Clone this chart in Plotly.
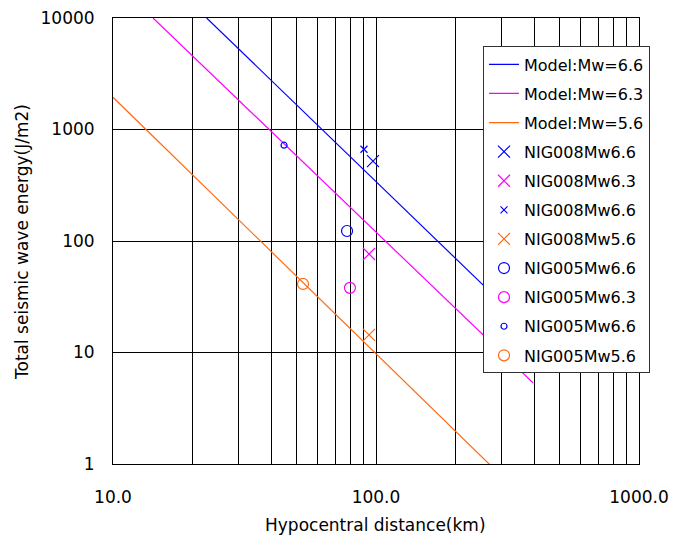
import plotly.graph_objects as go

# ---- data ----
model_names = ["Model:Mw=6.6", "Model:Mw=6.3", "Model:Mw=5.6"]
model_colors = ["#0000FF", "#FF00FF", "#FF6A10"]
model_dist = [[22.7, 400.0], [14.2, 395.0], [10.0, 285.0]]
model_energy = [[10000.0, 14.5], [10000.0, 5.36], [1945.0, 0.877]]

obs_names = ["NIG008Mw6.6", "NIG008Mw6.3", "NIG008Mw6.6", "NIG008Mw5.6",
             "NIG005Mw6.6", "NIG005Mw6.3", "NIG005Mw6.6", "NIG005Mw5.6"]
obs_dist = [97.4, 94.1, 90.0, 94.1, 77.6, 79.6, 44.7, 52.8]
obs_energy = [520.0, 76.5, 665.0, 14.4, 122.9, 38.0, 723.0, 41.2]
obs_colors = ["#0000FF", "#FF00FF", "#0000FF", "#FF6A10",
              "#0000FF", "#FF00FF", "#0000FF", "#FF6A10"]
obs_symbols = ["x-thin-open", "x-thin-open", "x-thin-open", "x-thin-open",
               "circle-open", "circle-open", "circle-open", "circle-open"]
obs_sizes = [12, 12, 7, 12, 11, 11, 6, 11]

x_tickvals = [10, 100, 1000]
x_ticktext = ["10.0", "100.0", "1000.0"]
x_minor = [20, 30, 40, 50, 60, 70, 80, 90, 200, 300, 400, 500, 600, 700, 800, 900]
y_tickvals = [1, 10, 100, 1000, 10000]
y_ticktext = ["1", "10", "100", "1000", "10000"]

FONT = "DejaVu Sans"

fig = go.Figure()
for name, col, xs, ys in zip(model_names, model_colors, model_dist, model_energy):
    fig.add_trace(go.Scatter(x=xs, y=ys, mode="lines", name=name, legendgroup=name,
                             line=dict(color=col, width=1.2)))
for i, name in enumerate(obs_names):
    fig.add_trace(go.Scatter(x=[obs_dist[i]], y=[obs_energy[i]], mode="markers",
                             name=name, legendgroup="g%d" % i,
                             marker=dict(symbol=obs_symbols[i], size=obs_sizes[i],
                                         color=obs_colors[i],
                                         line=dict(color=obs_colors[i], width=1.2))))

OFF = 8  # page body offset
W, H = 679, 540
L = 113 - OFF
T = 17.5 - OFF
pw = 526
ph = 447
R = W - L - pw
B = H - T - ph


def px(xs):
    return (xs - OFF - L) / pw


def py(ys):
    return (T + ph - (ys - OFF)) / ph


fig.update_layout(
    width=W, height=H,
    margin=dict(l=L, r=R, t=T, b=B, autoexpand=False),
    paper_bgcolor="white", plot_bgcolor="white",
    font=dict(family=FONT, size=17, color="black"),
    showlegend=True,
    legend=dict(x=px(483), y=py(46), xanchor="left", yanchor="top",
                bgcolor="white", bordercolor="#333333", borderwidth=1,
                font=dict(family=FONT, size=16, color="black"),
                tracegroupgap=5.3, traceorder="grouped"),
    xaxis=dict(type="log", range=[1, 3], tickmode="array", tickvals=x_tickvals,
               ticktext=x_ticktext, showgrid=True, gridcolor="black", gridwidth=1,
               minor=dict(tickmode="array", tickvals=x_minor, showgrid=True,
                          gridcolor="black", gridwidth=1, ticks=""),
               showline=True, linecolor="black", linewidth=1, mirror=True,
               ticks="", ticklabelstandoff=18, zeroline=False,
               ticklabeloverflow="allow",
               tickfont=dict(family=FONT, size=17)),
    yaxis=dict(type="log", range=[0, 4], tickmode="array", tickvals=y_tickvals,
               ticktext=y_ticktext, showgrid=True, gridcolor="black", gridwidth=1,
               showline=True, linecolor="black", linewidth=1, mirror=True,
               ticks="", ticklabelstandoff=14, zeroline=False,
               ticklabeloverflow="allow",
               tickfont=dict(family=FONT, size=17)),
    annotations=[
        dict(text="Hypocentral distance(km)", xref="paper", yref="paper",
             x=px(375), y=py(526), xanchor="center", yanchor="middle",
             showarrow=False, font=dict(family=FONT, size=17)),
        dict(text="Total seismic wave energy(J/m2)", xref="paper", yref="paper",
             x=px(22), y=py(242), xanchor="center", yanchor="middle",
             textangle=-90, showarrow=False, font=dict(family=FONT, size=17)),
    ],
)

fig.write_html("out.html")
